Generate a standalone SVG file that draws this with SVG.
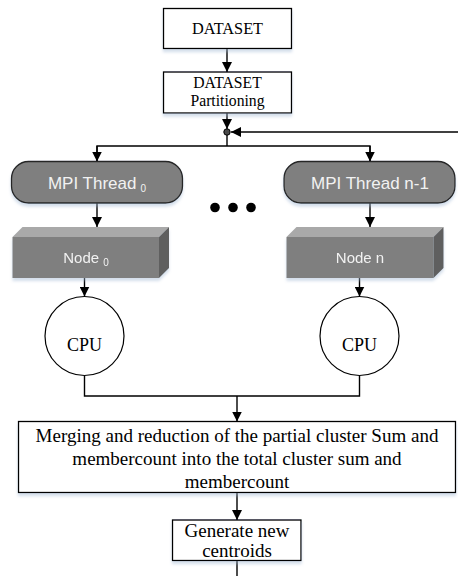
<svg xmlns="http://www.w3.org/2000/svg" width="458" height="576" viewBox="0 0 458 576">
  <style>
    .box { fill: #ffffff; stroke: #000000; stroke-width: 1.3; }
    .serif { font-family: "Liberation Serif", "Times New Roman", serif; fill: #000000; text-anchor: middle; }
    .sans { font-family: "Liberation Sans", Arial, sans-serif; fill: #f2f2f2; text-anchor: middle; }
    .thread { fill: #7f7f7f; stroke: #262626; stroke-width: 1.3; }
    .front { fill: #7f7f7f; }
    .top { fill: #a9a9a9; }
    .side { fill: #5e5e5e; }
    .wire { fill: none; stroke: #000000; stroke-width: 1.4; }
  </style>
  <defs>
    <marker id="arrow" viewBox="0 0 10 10" refX="10" refY="5" markerWidth="10" markerHeight="10" markerUnits="userSpaceOnUse" orient="auto">
      <path d="M0,0 L10,5 L0,10 Z" fill="#000000"/>
    </marker>
    <filter id="shadow" x="-10%" y="-20%" width="120%" height="150%">
      <feDropShadow dx="0" dy="3" stdDeviation="1.5" flood-color="#9fb6d2" flood-opacity="0.45"/>
    </filter>
  </defs>

  <rect width="458" height="576" fill="#ffffff"/>

  <!-- connectors -->
  <g id="connectors">
    <line class="wire" x1="227" y1="48" x2="227" y2="72" marker-end="url(#arrow)"/>
    <line class="wire" x1="227" y1="113" x2="227" y2="129" marker-end="url(#arrow)"/>
    <line class="wire" x1="458" y1="132" x2="231" y2="132" marker-end="url(#arrow)"/>
    <line class="wire" x1="227" y1="132" x2="227" y2="146"/>
    <polyline class="wire" points="97,161 97,146 370,146 370,161"/>
    <line class="wire" x1="97" y1="146" x2="97" y2="161.5" marker-end="url(#arrow)"/>
    <line class="wire" x1="370" y1="146" x2="370" y2="161.5" marker-end="url(#arrow)"/>
    <line class="wire" x1="97" y1="203" x2="97" y2="227" marker-end="url(#arrow)"/>
    <line class="wire" x1="370" y1="203" x2="370" y2="227" marker-end="url(#arrow)"/>
    <line class="wire" x1="84.5" y1="278" x2="84.5" y2="296.5" marker-end="url(#arrow)"/>
    <line class="wire" x1="359.5" y1="278" x2="359.5" y2="296.5" marker-end="url(#arrow)"/>
    <polyline class="wire" points="84.5,375.5 84.5,396 359.5,396 359.5,375.5"/>
    <line class="wire" x1="237" y1="396" x2="237" y2="421.5" marker-end="url(#arrow)"/>
    <line class="wire" x1="237" y1="493" x2="237" y2="520" marker-end="url(#arrow)"/>
    <line class="wire" x1="237" y1="561" x2="237" y2="576"/>
    <circle cx="227" cy="132" r="3.2" fill="#4a4a4a" stroke="#000000" stroke-width="1"/>
  </g>

  <g id="dataset">
    <rect class="box" x="163.5" y="8.5" width="128" height="40" filter="url(#shadow)"/>
    <text class="serif" x="227.5" y="34" font-size="16.3">DATASET</text>
  </g>

  <g id="partitioning">
    <rect class="box" x="163.5" y="72" width="128" height="41" filter="url(#shadow)"/>
    <text class="serif" x="227.5" y="88" font-size="15.7">DATASET</text>
    <text class="serif" x="227.5" y="106" font-size="15.7">Partitioning</text>
  </g>

  <g id="thread0">
    <rect class="thread" x="11.5" y="161.5" width="171" height="41.5" rx="17" filter="url(#shadow)"/>
    <text class="sans" x="97" y="188.5" font-size="17">MPI Thread<tspan font-size="10" dx="4" dy="3">0</tspan></text>
  </g>

  <g id="threadn">
    <rect class="thread" x="284" y="161.5" width="171" height="41.5" rx="17" filter="url(#shadow)"/>
    <text class="sans" x="370" y="188.5" font-size="17">MPI Thread n-1</text>
  </g>

  <g id="ellipsis">
    <circle cx="215" cy="207.5" r="4.8" fill="#000000"/>
    <circle cx="233" cy="207.5" r="4.8" fill="#000000"/>
    <circle cx="251" cy="207.5" r="4.8" fill="#000000"/>
  </g>

  <g id="node0" filter="url(#shadow)">
    <rect class="front" x="12.5" y="237" width="146.5" height="41"/>
    <polygon class="top" points="12.5,237 22.5,227 169,227 159,237"/>
    <polygon class="side" points="159,237 169,227 169,268 159,278"/>
    <text class="sans" x="86" y="263" font-size="15">Node<tspan font-size="10" dx="4" dy="3">0</tspan></text>
  </g>

  <g id="noden" filter="url(#shadow)">
    <rect class="front" x="286.5" y="237" width="147" height="41"/>
    <polygon class="top" points="286.5,237 296.5,227 443.5,227 433.5,237"/>
    <polygon class="side" points="433.5,237 443.5,227 443.5,268 433.5,278"/>
    <text class="sans" x="360" y="263" font-size="15">Node n</text>
  </g>

  <g id="cpu0">
    <circle cx="84.5" cy="336" r="39.5" fill="#ffffff" stroke="#000000" stroke-width="1.2"/>
    <text class="serif" x="84.5" y="350.5" font-size="18">CPU</text>
  </g>

  <g id="cpun">
    <circle cx="359.5" cy="336" r="39.5" fill="#ffffff" stroke="#000000" stroke-width="1.2"/>
    <text class="serif" x="359.5" y="350.5" font-size="18">CPU</text>
  </g>

  <g id="merge">
    <rect class="box" x="18.5" y="421.5" width="437" height="71" filter="url(#shadow)"/>
    <text class="serif" x="237" y="442" font-size="19">Merging and reduction of the partial cluster Sum and</text>
    <text class="serif" x="237" y="465" font-size="19">membercount into the total cluster sum and</text>
    <text class="serif" x="237" y="488" font-size="19">membercount</text>
  </g>

  <g id="centroids">
    <rect class="box" x="172.5" y="520" width="128.5" height="40.5" filter="url(#shadow)"/>
    <text class="serif" x="237" y="537" font-size="19">Generate new</text>
    <text class="serif" x="237" y="557" font-size="19">centroids</text>
  </g>
</svg>
